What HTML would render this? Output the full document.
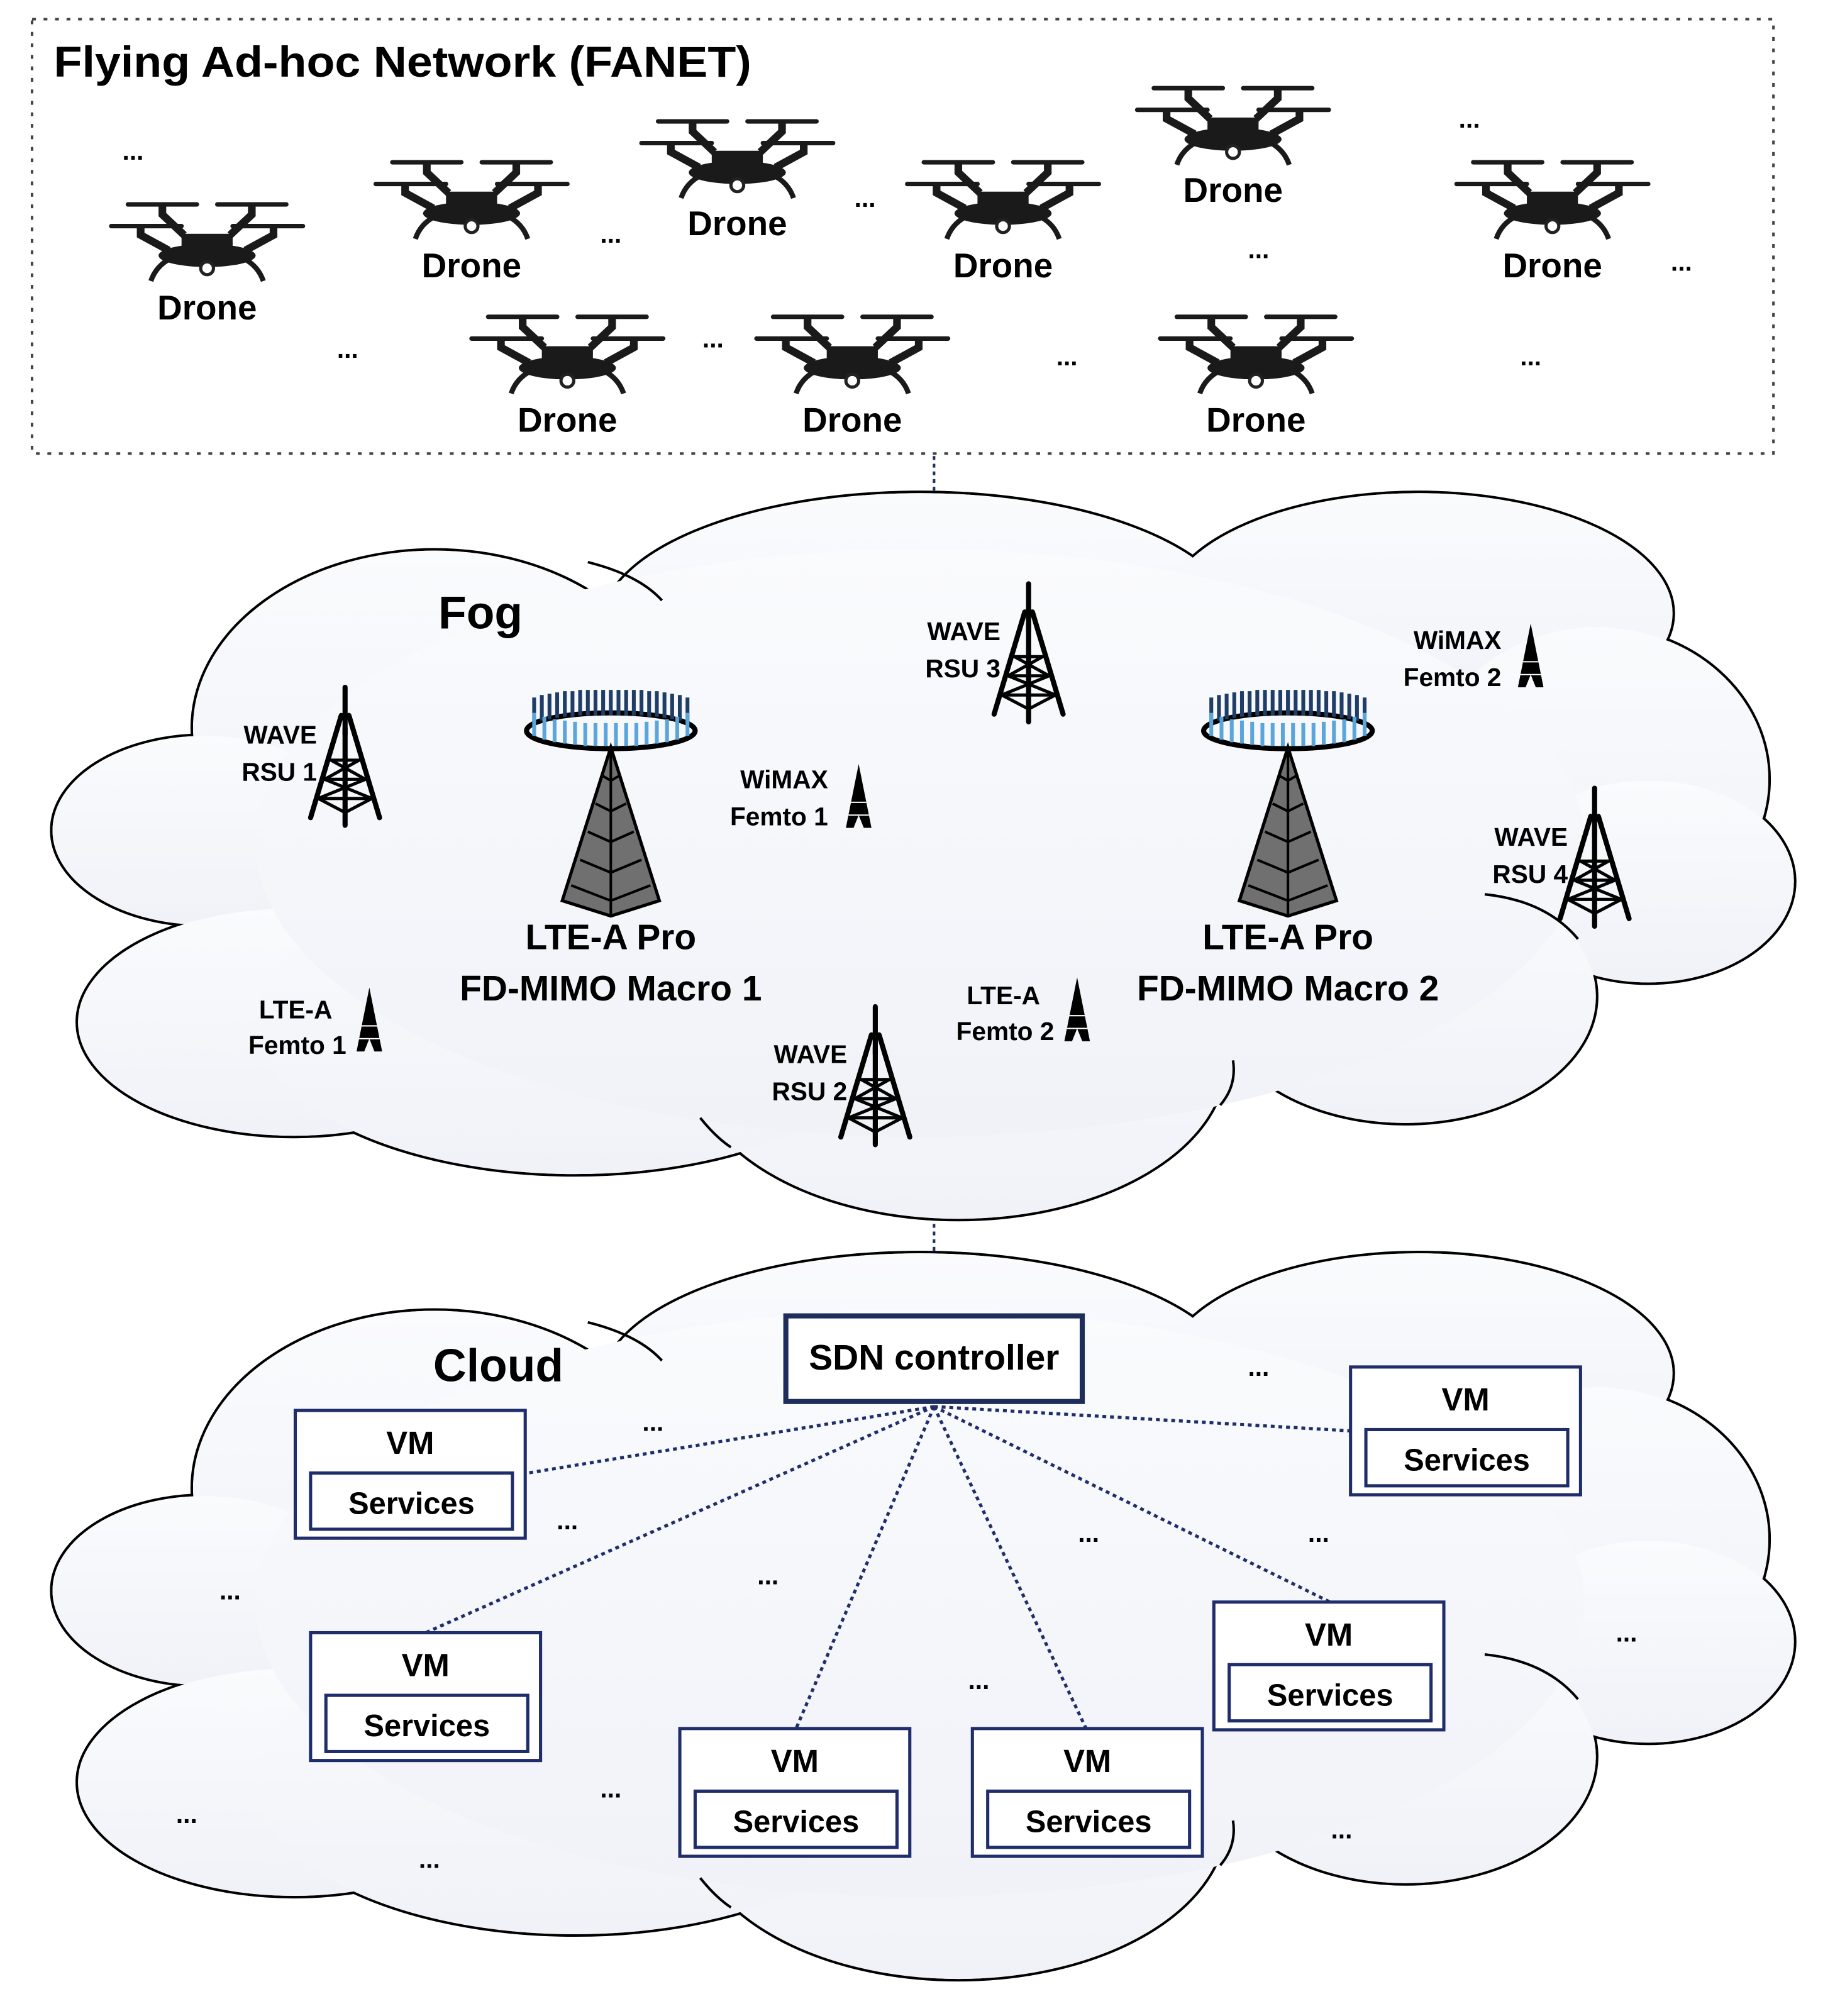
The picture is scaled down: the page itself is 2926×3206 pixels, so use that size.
<!DOCTYPE html>
<html><head><meta charset="utf-8"><style>html,body{margin:0;padding:0;background:#fff}svg{display:block}text{font-family:"Liberation Sans",sans-serif;font-weight:bold;fill:#000}</style></head>
<body>
<svg width="2926" height="3206" viewBox="0 0 1440 1578" xmlns="http://www.w3.org/2000/svg">
<defs>
<linearGradient id="cg" x1="0" y1="0" x2="0" y2="1"><stop offset="0" stop-color="#fafbfd"/><stop offset="1" stop-color="#f0f2f8"/></linearGradient>
<g id="cloudS" fill="none" stroke="#000" stroke-width="2">
<ellipse cx="340" cy="570" rx="190" ry="140"/>
<ellipse cx="160" cy="650" rx="120" ry="75"/>
<ellipse cx="230" cy="800" rx="170" ry="90"/>
<ellipse cx="720" cy="490" rx="250" ry="105"/>
<ellipse cx="1110" cy="480" rx="200" ry="95"/>
<ellipse cx="1250" cy="610" rx="135" ry="120"/>
<ellipse cx="1290" cy="690" rx="115" ry="80"/>
<ellipse cx="1100" cy="780" rx="150" ry="100"/>
<ellipse cx="750" cy="830" rx="210" ry="125"/>
<ellipse cx="450" cy="800" rx="250" ry="120"/>
</g>
<g id="cloudF" fill="url(#cg)" stroke="none">
<ellipse cx="340" cy="570" rx="189" ry="139"/>
<ellipse cx="160" cy="650" rx="119" ry="74"/>
<ellipse cx="230" cy="800" rx="169" ry="89"/>
<ellipse cx="720" cy="490" rx="249" ry="104"/>
<ellipse cx="1110" cy="480" rx="199" ry="94"/>
<ellipse cx="1250" cy="610" rx="134" ry="119"/>
<ellipse cx="1290" cy="690" rx="114" ry="79"/>
<ellipse cx="1100" cy="780" rx="149" ry="99"/>
<ellipse cx="750" cy="830" rx="209" ry="124"/>
<ellipse cx="450" cy="800" rx="249" ry="119"/>
<ellipse cx="720" cy="660" rx="520" ry="230"/>
</g>
<g id="cloudA" fill="none" stroke="#000" stroke-width="2">
<path d="M460 440 Q500 450 518 470"/>
<path d="M1162 700 Q1210 705 1235 735"/>
<path d="M965 830 Q968 850 955 865"/>
<path d="M548 875 Q560 890 572 898"/>
</g>
<g id="drone" fill="#1a1a1a" stroke="#1a1a1a">
<path d="M-62 0H-8M8 0H62M-75 17H-20M20 17H75" stroke-width="3.5" stroke-linecap="round"/>
<path d="M-35 0V8L-18 24M35 0V8L18 24M-52 17V24L-30 36M52 17V24L30 36" stroke-width="6" fill="none"/>
<rect x="-20" y="23" width="40" height="14" stroke="none"/>
<ellipse cx="0" cy="40" rx="38" ry="9" stroke="none"/>
<path d="M-28 42Q-40 48-44 60M28 42Q40 48 44 60" stroke-width="4" fill="none"/>
<circle cx="0" cy="50" r="5" fill="#fff" stroke="#222" stroke-width="2.5"/>
</g>
<g id="lat" stroke="#000" fill="none" stroke-linecap="round">
<path d="M0 -2V35" stroke-width="4"/>
<path d="M-3 20L-27 100M3 20L27 100M0 30V106" stroke-width="4"/>
<path d="M-11 55H11M-16 70H16M-21 85H21M-11 55L16 70M11 55L-16 70M-16 70L21 85M16 70L-21 85M-21 85L0 96L21 85" stroke-width="2.5"/>
</g>
<g id="fem">
<path d="M0 0L-10 50H-4L0 40L4 50H10Z" fill="#000"/>
<path d="M-6 30H6M-8 40H8" stroke="#fff" stroke-width="1"/>
</g>
<g id="macro">
<polygon points="0,0 -38,120 0,132 38,120" fill="#707070" stroke="#000" stroke-width="2.5"/>
<path d="M0 0V132M-7 22L0 26L7 22M-12 44L0 50L12 44M-18 66L0 74L18 66M-24 88L0 98L24 88M-31 108L0 120L31 108" stroke="#000" stroke-width="2" fill="none"/>
</g>
<g id="ring">
<ellipse cx="0" cy="0" rx="66" ry="14" fill="none" stroke="#000" stroke-width="4"/>
<g stroke-width="3">
<path d="M-60 -6V-26M-54 -8V-28M-48 -9V-29M-42 -10V-30M-36 -11V-31M-30 -11V-31M-24 -12V-32M-18 -12V-32M-12 -12V-32M-6 -12V-32M0 -12V-32M6 -12V-32M12 -12V-32M18 -12V-32M24 -12V-32M30 -11V-31M36 -11V-31M42 -10V-30M48 -9V-29M54 -8V-28M60 -6V-26" stroke="#1f3d66"/>
<path d="M-60 4V-14M-52 7V-11M-44 9V-9M-36 10V-8M-28 11V-7M-20 12V-6M-12 12V-6M-4 12V-6M4 12V-6M12 12V-6M20 12V-6M28 11V-7M36 10V-8M44 9V-9M52 7V-11M60 4V-14" stroke="#5aa6dc"/>
</g>
</g>
<g id="vm">
<rect x="0" y="0" width="180" height="100" fill="#fff" stroke="#1f2d6b" stroke-width="2.5"/>
<rect x="12" y="49" width="158" height="44" fill="#fff" stroke="#1f2d6b" stroke-width="2.5"/>
<text x="90" y="34" font-size="25" text-anchor="middle">VM</text>
<text x="91" y="81" font-size="24" text-anchor="middle">Services</text>
</g>
</defs>

<rect x="25" y="15" width="1363" height="340" fill="none" stroke="#444" stroke-width="2" stroke-dasharray="3,6"/>
<text x="42" y="60" font-size="34" textLength="546" lengthAdjust="spacingAndGlyphs">Flying Ad-hoc Network (FANET)</text>
<g>
<use href="#drone" transform="translate(162,160)"/><text x="162" y="250" font-size="27" text-anchor="middle">Drone</text>
<use href="#drone" transform="translate(369,127)"/><text x="369" y="217" font-size="27" text-anchor="middle">Drone</text>
<use href="#drone" transform="translate(577,95)"/><text x="577" y="184" font-size="27" text-anchor="middle">Drone</text>
<use href="#drone" transform="translate(785,127)"/><text x="785" y="217" font-size="27" text-anchor="middle">Drone</text>
<use href="#drone" transform="translate(965,69)"/><text x="965" y="158" font-size="27" text-anchor="middle">Drone</text>
<use href="#drone" transform="translate(1215,127)"/><text x="1215" y="217" font-size="27" text-anchor="middle">Drone</text>
<use href="#drone" transform="translate(444,248)"/><text x="444" y="338" font-size="27" text-anchor="middle">Drone</text>
<use href="#drone" transform="translate(667,248)"/><text x="667" y="338" font-size="27" text-anchor="middle">Drone</text>
<use href="#drone" transform="translate(983,248)"/><text x="983" y="338" font-size="27" text-anchor="middle">Drone</text>
</g>
<g font-size="20" text-anchor="middle">
<text x="104" y="125">...</text><text x="478" y="190">...</text><text x="677" y="162">...</text><text x="1150" y="100">...</text><text x="985" y="202">...</text><text x="1316" y="212">...</text><text x="272" y="280">...</text><text x="558" y="272">...</text><text x="835" y="286">...</text><text x="1198" y="286">...</text>
</g>

<path d="M731 357V420" stroke="#1f2d6b" stroke-width="2" stroke-dasharray="3,3"/>

<use href="#cloudS"/><use href="#cloudF"/><use href="#cloudA"/>
<text x="343" y="492" font-size="36">Fog</text>
<use href="#ring" transform="translate(478,572)"/><use href="#macro" transform="translate(478,585)"/>
<use href="#ring" transform="translate(1008,572)"/><use href="#macro" transform="translate(1008,585)"/>
<g font-size="28" text-anchor="middle">
<text x="478" y="743">LTE-A Pro</text><text x="478" y="783">FD-MIMO Macro 1</text>
<text x="1008" y="743">LTE-A Pro</text><text x="1008" y="783">FD-MIMO Macro 2</text>
</g>
<use href="#lat" transform="translate(270,540)"/>
<use href="#lat" transform="translate(805,459)"/>
<use href="#lat" transform="translate(685,790)"/>
<use href="#lat" transform="translate(1248,619)"/>
<use href="#fem" transform="translate(672,598)"/>
<use href="#fem" transform="translate(1198,488)"/>
<use href="#fem" transform="translate(289,773)"/>
<use href="#fem" transform="translate(843,765)"/>
<g font-size="20" text-anchor="end">
<text x="248" y="582">WAVE</text><text x="248" y="611">RSU 1</text>
<text x="783" y="501">WAVE</text><text x="783" y="530">RSU 3</text>
<text x="663" y="832">WAVE</text><text x="663" y="861">RSU 2</text>
<text x="1227" y="662">WAVE</text><text x="1227" y="691">RSU 4</text>
<text x="648" y="617">WiMAX</text><text x="648" y="646">Femto 1</text>
<text x="1175" y="508">WiMAX</text><text x="1175" y="537">Femto 2</text>
<text x="260" y="797">LTE-A</text><text x="271" y="825">Femto 1</text>
<text x="814" y="786">LTE-A</text><text x="825" y="814">Femto 2</text>
</g>

<path d="M731 958V1030" stroke="#1f2d6b" stroke-width="2" stroke-dasharray="3,3"/>
<g transform="translate(0,595)"><use href="#cloudS"/><use href="#cloudF"/><use href="#cloudA"/></g>
<text x="339" y="1081" font-size="36">Cloud</text>
<g stroke="#1f2d6b" stroke-width="2.5" stroke-dasharray="3,3" fill="none">
<path d="M731 1101L413 1153M731 1101L333 1278M731 1101L623 1353M731 1101L850 1353M731 1101L1041 1254M731 1101L1057 1120"/>
</g>
<rect x="615" y="1030" width="232" height="67" fill="#fff" stroke="#1f2d5c" stroke-width="4"/>
<text x="731" y="1072" font-size="28" text-anchor="middle">SDN controller</text>
<use href="#vm" transform="translate(231,1104)"/>
<use href="#vm" transform="translate(243,1278)"/>
<use href="#vm" transform="translate(532,1353)"/>
<use href="#vm" transform="translate(761,1353)"/>
<use href="#vm" transform="translate(950,1254)"/>
<use href="#vm" transform="translate(1057,1070)"/>
<g font-size="20" text-anchor="middle">
<text x="511" y="1120">...</text><text x="444" y="1197">...</text><text x="985" y="1077">...</text><text x="180" y="1252">...</text><text x="601" y="1240">...</text><text x="852" y="1207">...</text><text x="1032" y="1207">...</text><text x="1273" y="1285">...</text><text x="766" y="1322">...</text><text x="478" y="1407">...</text><text x="146" y="1427">...</text><text x="336" y="1462">...</text><text x="1050" y="1439">...</text>
</g>
</svg>
</body></html>
